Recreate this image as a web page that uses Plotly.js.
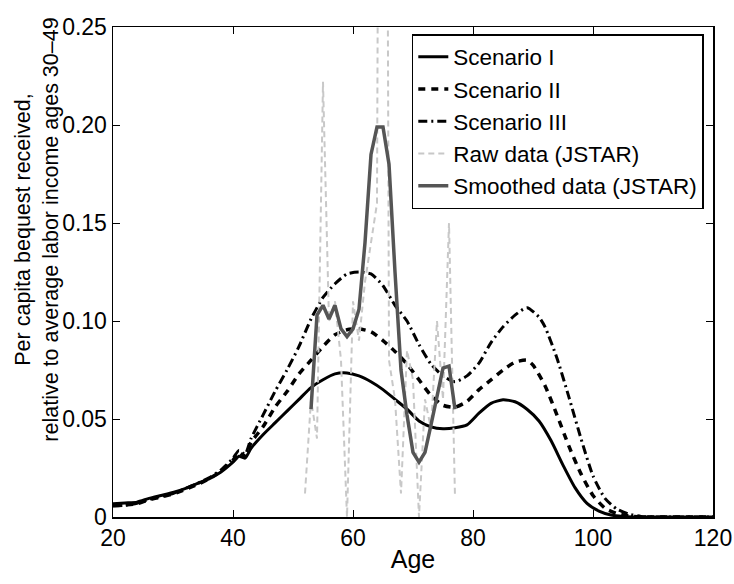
<!DOCTYPE html>
<html>
<head>
<meta charset="utf-8">
<script src="https://cdn.plot.ly/plotly-3.0.1.min.js"></script>
<style>html,body{margin:0;padding:0;background:#fff;}#chart{width:734px;height:584px;}</style>
</head>
<body>
<div id="chart"></div>
<script>
// Scenario I (solid)
const agesS1 = [20,22,24,26,28,30,32,34,36,38,40,41,42,43,45,47,49,51,53,55,57,59,61,63,65,67,69,71,73,75,77,79,81,83,85,87,89,91,93,95,97,99,101,103,105,108,120];
const valsS1 = [0.0068,0.0072,0.0076,0.0095,0.011,0.0125,0.0145,0.017,0.0195,0.023,0.028,0.031,0.030,0.035,0.042,0.048,0.054,0.060,0.066,0.070,0.073,0.0735,0.072,0.069,0.065,0.060,0.055,0.049,0.046,0.045,0.0455,0.047,0.053,0.058,0.0598,0.0588,0.055,0.049,0.039,0.0265,0.015,0.007,0.003,0.001,0.0003,0,0];
// Scenario II (dashed)
const agesS2 = [20,22,24,26,28,30,32,34,36,38,40,41,42,43,45,47,49,51,53,55,57,59,61,63,65,67,69,71,73,75,77,79,81,83,85,87,89,90,92,94,96,98,100,102,104,106,109,120];
const valsS2 = [0.0058,0.0062,0.0068,0.0088,0.0102,0.0118,0.014,0.0165,0.0195,0.0235,0.029,0.033,0.031,0.038,0.046,0.056,0.064,0.073,0.080,0.087,0.093,0.0955,0.096,0.0945,0.090,0.0845,0.078,0.070,0.062,0.057,0.056,0.059,0.065,0.070,0.075,0.079,0.080,0.0775,0.067,0.052,0.036,0.022,0.011,0.0045,0.0018,0.0005,0,0];
// Scenario III (dash-dot)
const agesS3 = [20,22,24,26,28,30,32,34,36,38,40,41,42,43,45,47,49,51,53,55,57,59,61,63,65,67,69,71,73,75,77,79,81,83,85,87,89,91,92,94,96,98,100,102,104,106,108,110,120];
const valsS3 = [0.0058,0.006,0.007,0.009,0.0105,0.012,0.0145,0.017,0.020,0.024,0.030,0.034,0.032,0.040,0.052,0.064,0.075,0.087,0.101,0.112,0.119,0.124,0.125,0.124,0.118,0.108,0.100,0.088,0.078,0.072,0.069,0.072,0.0785,0.089,0.097,0.103,0.1068,0.102,0.097,0.081,0.061,0.040,0.021,0.0095,0.004,0.0015,0.0003,0,0];
// Raw data (JSTAR)
const agesRaw = [52,53,54,55,56,57,58,59,60,61,62,63,64,65,66,67,68,69,70,71,72,73,74,75,76,77];
const valsRaw = [0.012,0.060,0.040,0.222,0.100,0.110,0.080,0.000,0.110,0.090,0.120,0.140,0.160,1.000,0.080,0.060,0.012,0.085,0.070,0.000,0.060,0.045,0.100,0.060,0.150,0.010];
// Smoothed data (JSTAR)
const agesSm = [53,54,55,56,57,58,59,60,61,62,63,64,65,66,67,68,69,70,71,72,73,74,75,76,77];
const valsSm = [0.055,0.103,0.108,0.101,0.108,0.096,0.092,0.096,0.106,0.140,0.185,0.199,0.199,0.180,0.125,0.075,0.052,0.033,0.028,0.033,0.047,0.062,0.076,0.077,0.055];

const xTicks = [20,40,60,80,100,120];
const yTicks = [0,0.05,0.10,0.15,0.20,0.25];
const yTickText = ['0','0.05','0.10','0.15','0.20','0.25'];
const yTitle = 'Per capita bequest received,<br>relative to average labor income ages 30–49';

const FONT = '"Liberation Sans", Arial, Helvetica, sans-serif';

const traces = [
  {x: agesS1, y: valsS1, name: 'Scenario I', mode: 'lines', line: {color: '#000', width: 3, shape: 'spline', smoothing: 0.6}},
  {x: agesS2, y: valsS2, name: 'Scenario II', mode: 'lines', line: {color: '#000', width: 3.5, dash: '7px,6px', shape: 'spline', smoothing: 0.6}},
  {x: agesS3, y: valsS3, name: 'Scenario III', mode: 'lines', line: {color: '#000', width: 3, dash: '9px,4px,2px,4px', shape: 'spline', smoothing: 0.6}},
  {x: agesRaw, y: valsRaw, name: 'Raw data (JSTAR)', mode: 'lines', line: {color: '#c8c8c8', width: 2, dash: '6px,4px'}},
  {x: agesSm, y: valsSm, name: 'Smoothed data (JSTAR)', mode: 'lines', line: {color: '#555555', width: 3.5}}
];

const layout = {
  width: 734, height: 584,
  margin: {l: 113, r: 21, t: 27, b: 67},
  paper_bgcolor: '#fff', plot_bgcolor: '#fff',
  font: {family: FONT, color: '#000', size: 23},
  showlegend: true,
  legend: {x: 0.498, y: 0.9857, xanchor: 'left', yanchor: 'top', bgcolor: '#fff', bordercolor: '#000', borderwidth: 1.5, font: {family: FONT, size: 22.5, color: '#000'}, tracegroupgap: 0},
  xaxis: {
    range: [20, 120], tickvals: xTicks, ticktext: xTicks.map(String),
    ticks: 'inside', ticklen: 7, tickwidth: 1, tickcolor: '#000',
    showline: true, linecolor: '#000', linewidth: 1.5, mirror: 'ticks',
    showgrid: false, zeroline: false, automargin: false,
    tickfont: {family: FONT, size: 23},
    title: {text: 'Age', font: {family: FONT, size: 25}, standoff: 0}
  },
  yaxis: {
    range: [0, 0.25], tickvals: yTicks, ticktext: yTickText,
    ticks: 'inside', ticklen: 7, tickwidth: 1, tickcolor: '#000',
    showline: true, linecolor: '#000', linewidth: 1.5, mirror: 'ticks',
    showgrid: false, zeroline: false, automargin: false,
    tickfont: {family: FONT, size: 23}
  },
  annotations: [{
    text: yTitle, textangle: -90, showarrow: false,
    xref: 'paper', yref: 'paper', x: -0.127, y: 0.586,
    xanchor: 'center', yanchor: 'middle', align: 'center',
    font: {family: FONT, size: 21.5, color: '#000'}
  }]
};

Plotly.newPlot('chart', traces, layout, {displayModeBar: false, staticPlot: true});
</script>
</body>
</html>
